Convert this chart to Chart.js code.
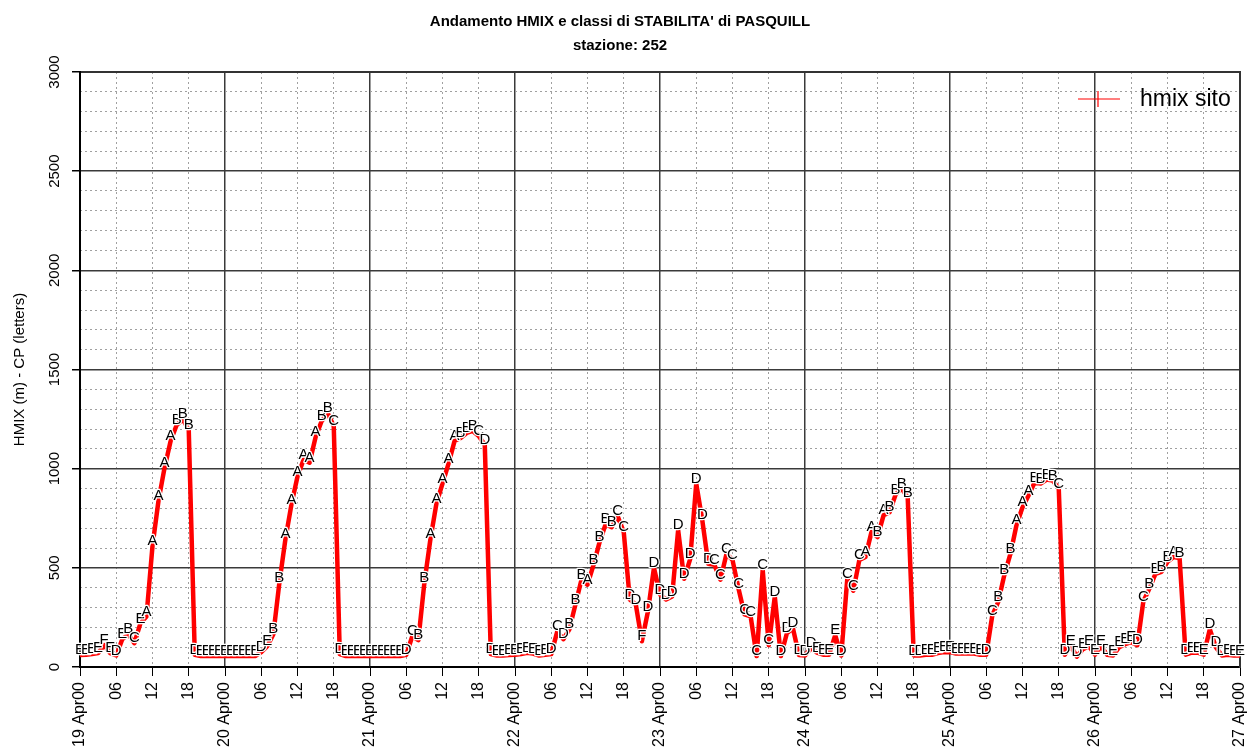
<!DOCTYPE html>
<html lang="it">
<head>
<meta charset="UTF-8">
<title>Andamento HMIX e classi di STABILITA' di PASQUILL</title>
<script src="https://cdn.jsdelivr.net/npm/chart.js@4"></script>
<style>
  html, body { margin: 0; padding: 0; background: #fff; overflow: hidden; }
  canvas { display: block; }
</style>
</head>
<body>
<canvas id="hmixChart" width="1247" height="751"></canvas>
<script>
// hourly mixing height (m), one row per day starting 19 Apr00 00h
const hmix = [
  60, 62, 65, 70, 110, 70, 58, 140, 165, 120, 220, 255, 610, 840, 1005, 1140, 1220, 1250, 1195, 62, 55, 55, 55, 55,
  55, 55, 55, 55, 55, 55, 75, 105, 165, 425, 645, 820, 960, 1045, 1030, 1160, 1240, 1280, 1215, 65, 55, 55, 55, 55,
  55, 55, 55, 55, 55, 55, 62, 155, 135, 425, 645, 825, 925, 1025, 1140, 1155, 1180, 1190, 1165, 1120, 65, 58, 58, 60,
  62, 65, 72, 68, 58, 62, 65, 180, 140, 190, 315, 440, 415, 515, 630, 720, 705, 760, 680, 340, 315, 130, 280, 500,
  365, 340, 355, 690, 445, 545, 925, 740, 520, 515, 440, 570, 540, 395, 265, 255, 55, 490, 110, 355, 55, 170, 195, 60,
  58, 95, 72, 62, 62, 160, 58, 445, 385, 540, 555, 680, 655, 765, 780, 870, 900, 855, 58, 58, 62, 62, 70, 75,
  75, 68, 68, 68, 68, 62, 62, 260, 330, 465, 570, 715, 805, 865, 930, 925, 945, 940, 900, 62, 105, 52, 90, 105,
  62, 105, 62, 58, 100, 115, 125, 110, 330, 395, 470, 480, 530, 555, 550, 62, 72, 72, 62, 190, 100, 58, 62, 58,
  58
];

// Pasquill stability class for each hour
const pasquill = [
  'E','E','E','E','F','E','D','E','B','C','E','A','A','A','A','A','B','B','B','D','E','E','E','E',
  'E','E','E','E','E','E','D','E','B','B','A','A','A','A','A','A','B','B','C','D','E','E','E','E',
  'E','E','E','E','E','E','D','C','B','B','A','A','A','A','A','B','B','B','C','D','D','E','E','E',
  'E','E','E','E','E','E','D','C','D','B','B','B','A','B','B','B','B','C','C','D','D','F','D','D',
  'D','D','D','D','D','D','D','D','D','C','C','C','C','C','C','C','C','C','C','D','D','D','D','D',
  'D','D','E','E','E','E','D','C','C','C','A','A','B','A','B','B','B','B','D','D','E','E','E','E',
  'E','E','E','E','E','E','D','C','B','B','B','A','A','A','B','B','B','B','C','D','E','D','E','E',
  'E','E','D','E','E','E','E','D','C','B','B','B','B','A','B','D','E','E','E','D','D','D','E','E',
  'E'
];

const dayNames = ['19 Apr00', '20 Apr00', '21 Apr00', '22 Apr00', '23 Apr00', '24 Apr00', '25 Apr00', '26 Apr00', '27 Apr00'];
const yTickLabels = [0, 500, 1000, 1500, 2000, 2500, 3000];

const FONT = '"Liberation Sans", Arial, Helvetica, sans-serif';
const SOLID = '#3a3a3a';
const DOTTED = '#a0a0a0';

const points = hmix.map((v, i) => ({ x: i, y: v }));

// letters of the stability classes on top of the line
const classLetters = {
    id: 'classLetters',
    afterDatasetsDraw(chart) {
        const ctx = chart.ctx;
        const meta = chart.getDatasetMeta(0);
        ctx.save();
        ctx.font = '15px ' + FONT;
        ctx.textAlign = 'center';
        ctx.textBaseline = 'middle';
        ctx.lineJoin = 'round';
        meta.data.forEach((pt, i) => {
            ctx.strokeStyle = '#fff';
            ctx.lineWidth = 2.5;
            ctx.strokeText(pasquill[i], pt.x, pt.y - 5);
            ctx.fillStyle = '#000';
            ctx.fillText(pasquill[i], pt.x, pt.y - 5);
        });
        ctx.restore();
    }
};

// rotated y tick labels, legend
const extras = {
    id: 'extras',
    afterDraw(chart) {
        const ctx = chart.ctx;
        const y = chart.scales.y;
        const area = chart.chartArea;
        ctx.save();
        ctx.fillStyle = '#000';
        ctx.font = '15px ' + FONT;
        ctx.textAlign = 'center';
        ctx.textBaseline = 'middle';
        yTickLabels.forEach(v => {
            ctx.save();
            ctx.translate(55, y.getPixelForValue(v));
            ctx.rotate(-Math.PI / 2);
            ctx.fillText(String(v), 0, 0);
            ctx.restore();
        });

        // legend
        const lx = area.right - 162, ly = area.top + 27;
        ctx.strokeStyle = '#ff0000';
        ctx.lineWidth = 1.2;
        ctx.beginPath();
        ctx.moveTo(lx, ly); ctx.lineTo(lx + 42, ly);
        ctx.moveTo(lx + 20, ly - 8); ctx.lineTo(lx + 20, ly + 8);
        ctx.stroke();
        ctx.font = '23px ' + FONT;
        ctx.textAlign = 'left';
        ctx.fillText('hmix sito', lx + 62, ly + 1);
        ctx.restore();
    }
};

new Chart(document.getElementById('hmixChart'), {
    type: 'line',
    data: {
        datasets: [{
            label: 'hmix sito',
            data: points,
            borderColor: '#ff0000',
            borderWidth: 4.5,
            borderJoinStyle: 'round',
            borderCapStyle: 'round',
            pointRadius: 0,
            tension: 0,
            fill: false
        }]
    },
    options: {
        responsive: false,
        animation: false,
        layout: { padding: { top: 0, right: 7, bottom: 0, left: 0 } },
        plugins: {
            legend: { display: false },
            tooltip: { enabled: false },
            title: {
                display: true,
                text: ["Andamento HMIX e classi di STABILITA' di PASQUILL", 'stazione: 252'],
                color: '#000',
                font: { family: FONT, size: 15, weight: 'bold', lineHeight: 1.6 },
                padding: { top: 10, bottom: 14 }
            }
        },
        scales: {
            x: {
                type: 'linear',
                position: 'bottom',
                min: 0,
                max: 192,
                afterFit: s => { s.height = 84; s.paddingRight = 0; s.paddingLeft = 0; },
                ticks: {
                    stepSize: 6,
                    autoSkip: false,
                    minRotation: 90,
                    maxRotation: 90,
                    padding: 6,
                    color: '#000',
                    font: { family: FONT, size: 16 },
                    callback: v => v % 24 === 0 ? dayNames[v / 24] : String(v % 24).padStart(2, '0')
                },
                grid: {
                    color: c => (c.tick && c.tick.value % 24 === 0) ? 'rgba(0,0,0,0)' : DOTTED,
                    tickColor: '#000',
                    tickLength: 9,
                    lineWidth: 1
                },
                border: { display: true, color: '#000', width: 2, dash: [2, 3] }
            },
            x2: {
                type: 'linear',
                position: 'top',
                min: 0,
                max: 192,
                afterFit: s => { s.height = 0; },
                ticks: { display: false, stepSize: 24 },
                grid: { color: SOLID, lineWidth: 1.5, drawTicks: false },
                border: { display: true, color: '#333', width: 2 }
            },
            y: {
                position: 'left',
                min: 0,
                max: 3000,
                afterFit: s => { s.width = 80; },
                ticks: { display: false, stepSize: 500 },
                grid: { color: SOLID, lineWidth: 1.5, tickColor: '#000', tickLength: 8 },
                border: { display: true, color: '#000', width: 2 },
                title: {
                    display: true,
                    text: 'HMIX (m) - CP (letters)',
                    color: '#000',
                    font: { family: FONT, size: 15 },
                    padding: { top: 11, bottom: 0 }
                }
            },
            y2: {
                position: 'right',
                min: 0,
                max: 3000,
                afterFit: s => { s.width = 0; },
                ticks: { display: false, stepSize: 100 },
                grid: {
                    color: c => (c.tick && c.tick.value % 500 === 0) ? 'rgba(0,0,0,0)' : DOTTED,
                    drawTicks: false,
                    lineWidth: 1
                },
                border: { display: true, color: '#333', width: 2, dash: [2, 3] }
            }
        }
    },
    plugins: [classLetters, extras]
});
</script>
</body>
</html>
